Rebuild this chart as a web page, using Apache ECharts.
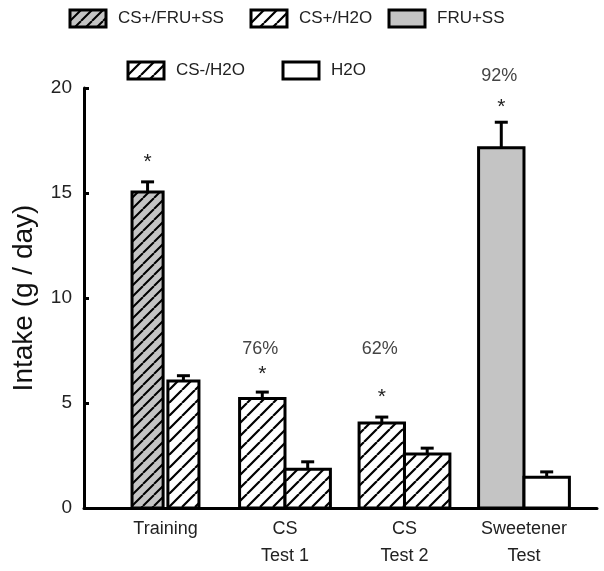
<!DOCTYPE html>
<html lang="en">
<head>
<meta charset="UTF-8"/>
<title>Intake</title>
<style>
  * { margin: 0; padding: 0; }
  body { background: #fff; }
  #chart { width: 604px; height: 571px; }
</style>
<script src="https://cdn.jsdelivr.net/npm/echarts@6.0.0/dist/echarts.min.js"></script>
</head>
<body>
<div id="chart"></div>
<script>
  // ---- data ----
  const categories = ["Training", "CS\nTest 1", "CS\nTest 2", "Sweetener\nTest"];
  const csPlusFruSS   = [15.05, null, null, null];
  const csPlusFruSSErr = [0.48, null, null, null];
  const csPlusH2O     = [null, 5.22, 4.05, null];
  const csPlusH2OErr  = [null, 0.3, 0.28, null];
  const fruSS         = [null, null, null, 17.15];
  const fruSSErr      = [null, null, null, 1.22];
  const csMinusH2O    = [6.05, 1.85, 2.57, null];
  const csMinusH2OErr = [0.25, 0.35, 0.28, null];
  const h2o           = [null, null, null, 1.47];
  const h2oErr        = [null, null, null, 0.25];
  const stars    = ["*", "*", "*", "*"];
  const percents = ["", "76%", "62%", "92%"];

  // ---- layout ----
  const barW = [0.26, 0.38, 0.38, 0.38];   // in category units
  const barGap = [0.04, 0, 0, 0];
  const starOffset = [20, 18, 20, 15];      // px above the error cap
  const pctOffset = [0, 43, 68, 46];

  function hatch(bg, s, lw) {
    const c = document.createElement("canvas");
    c.width = c.height = s;
    const g = c.getContext("2d");
    g.fillStyle = bg;
    g.fillRect(0, 0, s, s);
    g.strokeStyle = "#000";
    g.lineWidth = lw;
    g.beginPath();
    [-s, 0, s].forEach(o => { g.moveTo(o, s); g.lineTo(o + s, 0); });
    g.stroke();
    return { image: c, repeat: "repeat" };
  }

  const fills = {
    grayHatch: hatch("#c4c4c4", 11, 2),
    whiteHatch: hatch("#fff", 13, 2.2),
    gray: "#c4c4c4",
    white: "#fff"
  };

  const groups = [
    { name: "CS+/FRU+SS", values: csPlusFruSS, errs: csPlusFruSSErr, side: -1, fill: fills.grayHatch, marks: true },
    { name: "CS+/H2O", values: csPlusH2O, errs: csPlusH2OErr, side: -1, fill: fills.whiteHatch, marks: true },
    { name: "FRU+SS", values: fruSS, errs: fruSSErr, side: -1, fill: fills.gray, marks: true },
    { name: "CS-/H2O", values: csMinusH2O, errs: csMinusH2OErr, side: 1, fill: fills.whiteHatch, marks: false },
    { name: "H2O", values: h2o, errs: h2oErr, side: 1, fill: fills.white, marks: false }
  ];

  const legendPos = [
    { x: 68.5, y: 8.5 }, { x: 249.5, y: 8.5 }, { x: 387.5, y: 8.5 },
    { x: 126.5, y: 60.5 }, { x: 281.5, y: 60.5 }
  ];

  const font = "Liberation Sans, Arial, Helvetica, sans-serif";

  function makeRender(grp) {
    return function (params, api) {
      const i = api.value(0), v = api.value(1), e = api.value(2);
      const half = barGap[i] / 2;
      let x1, x2;
      if (grp.side < 0) { x1 = i - half - barW[i]; x2 = i - half; }
      else { x1 = i + half; x2 = i + half + barW[i]; }
      const pTop = api.coord([x1, v]);
      const pBot = api.coord([x2, 0]);
      const cx = (pTop[0] + pBot[0]) / 2;
      const yErr = api.coord([i, v + e])[1];
      const children = [
        {
          type: "line",
          shape: { x1: cx, y1: pTop[1], x2: cx, y2: yErr },
          style: { stroke: "#000", lineWidth: 3 }
        },
        {
          type: "line",
          shape: { x1: cx - 6.5, y1: yErr, x2: cx + 6.5, y2: yErr },
          style: { stroke: "#000", lineWidth: 3 }
        },
        {
          type: "rect",
          shape: { x: pTop[0], y: pTop[1], width: pBot[0] - pTop[0], height: pBot[1] - pTop[1] },
          style: { fill: grp.fill, stroke: "#000", lineWidth: 3 }
        }
      ];
      if (grp.marks) {
        if (stars[i]) {
          children.push({
            type: "text",
            style: {
              text: stars[i], x: cx, y: yErr - starOffset[i],
              align: "center", verticalAlign: "middle",
              font: "21px " + font, fill: "#222"
            }
          });
        }
        if (percents[i]) {
          children.push({
            type: "text",
            style: {
              text: percents[i], x: cx - 2, y: yErr - pctOffset[i],
              align: "center", verticalAlign: "middle",
              font: "18px " + font, fill: "#444"
            }
          });
        }
      }
      return { type: "group", children };
    };
  }

  const chart = echarts.init(document.getElementById("chart"));
  chart.setOption({
    animation: false,
    grid: { left: 84, right: 7, top: 88, bottom: 63, outerBoundsMode: "none", containLabel: false },
    legend: groups.map((g, k) => ({
      data: [g.name],
      left: legendPos[k].x,
      top: legendPos[k].y,
      padding: 0,
      icon: "rect",
      itemWidth: 36,
      itemHeight: 17,
      selectedMode: false,
      itemStyle: { borderColor: "#000", borderWidth: 3 },
      textStyle: { fontSize: 17, color: "#222", fontFamily: font, padding: [0, 0, 0, 7] }
    })),
    xAxis: {
      type: "value",
      min: -0.682,
      max: 3.611,
      splitLine: { show: false },
      axisTick: { show: false },
      axisLine: { show: true, onZero: false, lineStyle: { color: "#000", width: 3 } },
      axisLabel: {
        customValues: [0, 1, 2, 3],
        formatter: v => categories[Math.round(v)],
        fontSize: 18,
        lineHeight: 27,
        margin: 8,
        color: "#222",
        fontFamily: font
      }
    },
    yAxis: {
      type: "value",
      min: 0,
      max: 20,
      interval: 5,
      name: "Intake (g / day)",
      nameLocation: "middle",
      nameGap: 46,
      nameTextStyle: { fontSize: 28, color: "#111", fontFamily: font },
      splitLine: { show: false },
      axisLine: { show: true, onZero: false, lineStyle: { color: "#000", width: 3 } },
      axisTick: { show: true, inside: true, length: 5, lineStyle: { color: "#000", width: 3 } },
      axisLabel: { fontSize: 19, color: "#222", margin: 12, fontFamily: font }
    },
    series: groups.map(g => ({
      name: g.name,
      type: "custom",
      itemStyle: { color: g.fill },
      encode: { x: 0, y: 1 },
      data: g.values
        .map((v, i) => (v == null ? null : [i, v, g.errs[i]]))
        .filter(d => d),
      renderItem: makeRender(g)
    }))
  });
</script>
</body>
</html>
